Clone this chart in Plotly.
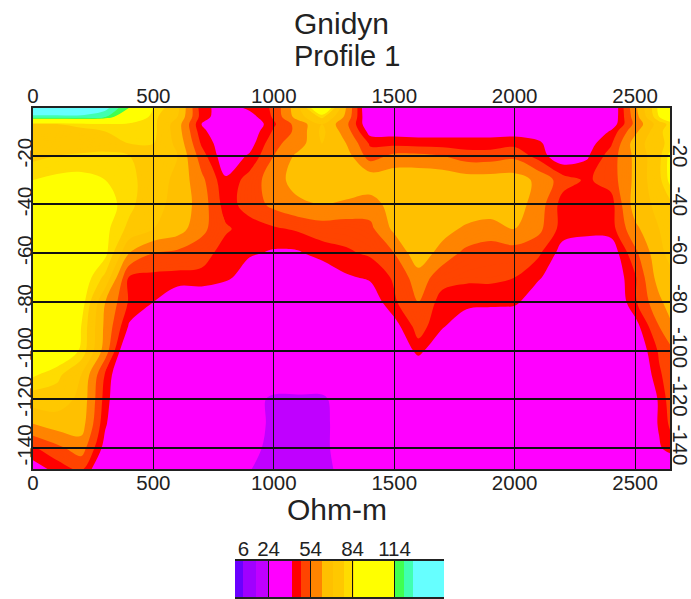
import plotly.graph_objects as go

distance = [0,100,200,300,400,500,600,700,800,900,1000,1100,1200,1300,1400,1500,1600,1700,1800,1900,2000,2100,2200,2300,2400,2500,2600,2645]
elevation = [0,-4,-7,-10,-15,-20,-30,-40,-50,-60,-70,-80,-90,-100,-110,-120,-130,-140,-150]
ohm = [
 [132,132,132,130,115,84,72,43,38,43,48,68,100,62,30,28,28,28,28,28,28,28,28,28,33,60,86,100],
 [126,126,126,122,100,80,70,44,36,38,48,66,80,60,32,28,28,28,28,28,28,28,28,28,34,58,84,92],
 [78,78,80,82,82,80,66,41,34,34,46,57,70,56,34,30,30,30,30,30,30,30,30,30,36,56,74,80],
 [76,76,76,78,80,80,66,43,34,36,48,56,72,58,38,38,38,38,38,38,38,38,34,32,42,60,76,82],
 [72,70,70,74,78,78,68,46,36,38,52,58,70,62,46,45,44,44,44,44,45,42,36,38,46,66,76,80],
 [76,78,80,80,78,76,70,50,36,42,54,64,68,66,50,56,56,54,50,50,52,44,36,40,50,64,76,86],
 [84,86,86,84,80,74,68,56,42,50,58,66,70,70,68,68,68,68,66,66,66,60,50,46,50,64,76,86],
 [92,92,92,88,80,72,68,58,44,50,56,60,62,60,58,66,70,70,70,68,66,58,44,42,44,66,72,76],
 [94,94,92,86,76,70,66,56,48,44,46,48,50,50,52,64,68,66,60,58,62,56,44,44,44,60,70,74],
 [92,92,90,86,62,54,52,50,44,42,40,40,44,46,48,54,68,58,52,50,50,48,38,34,36,52,68,72],
 [94,94,90,76,46,45,45,45,43,36,32,32,34,40,42,48,58,50,48,48,47,42,34,32,35,46,66,68],
 [94,94,88,62,46,41,34,34,30,30,30,30,30,32,36,46,54,44,44,44,43,34,30,30,32,46,60,66],
 [96,94,84,60,40,30,30,30,30,30,30,30,30,30,30,38,50,42,34,30,30,30,30,30,30,38,54,60],
 [96,92,83,58,30,30,30,30,30,30,30,30,30,30,30,30,44,32,30,30,30,30,30,30,28,34,48,52],
 [85,80,70,46,28,28,28,28,28,28,28,28,28,28,28,28,30,28,28,28,28,28,28,28,28,30,46,50],
 [74,74,68,44,28,28,28,28,28,26,23,23,23,27,28,28,28,28,28,28,28,28,28,28,28,28,42,50],
 [62,66,66,42,28,28,28,28,28,26,23,23,23,26,28,28,28,28,28,28,28,28,28,28,28,28,42,48],
 [46,52,58,38,28,28,28,28,28,25,23,23,23,26,28,28,28,28,28,28,28,28,28,28,28,28,40,44],
 [36,42,46,32,28,28,28,28,28,24,22,22,22,26,28,28,28,28,28,28,28,28,28,28,28,28,28,30],
]
band_starts = [0,6,15,24,41,47,54,62,70,78,84,114,121,127,150]
band_colors = ["#6a00ff","#a000ff","#c000ff","#ff00ff","#ff0000","#ff4400","#ff8400","#ffc000","#ffc800","#ffdc00","#ffff00","#40ff50","#40ffb0","#66ffff","#66ffff"]
legend_ticks = [24,54,84,114]
legend_labels = [6,24,54,84,114]
legend_values = list(range(0,150))
x_ticks = [0,500,1000,1500,2000,2500]
y_ticks = [-20,-40,-60,-80,-100,-120,-140]

W, H = 691, 599
def step_scale(starts, colors, top=150):
    stops = []
    for i in range(len(starts)-1):
        stops.append([starts[i]/top, colors[i]])
        stops.append([starts[i+1]/top, colors[i]])
    return stops
scale = step_scale(band_starts, band_colors)

FONT = "Liberation Sans, Arial, sans-serif"
INK = "#222222"
tick_font = dict(family=FONT, size=20.5, color=INK)
main_dom_x = [33/W, 670/W]
main_dom_y = [1-469/H, 1-108/H]
bar_dom_x = [235/W, 444/W]
bar_dom_y = [1-597/H, 1-561/H]
x_range = [0, 2645]
y_range = [-148.6, -0.4]
bar_range = [0, 149.3]

fig = go.Figure()
fig.add_trace(go.Contour(
    x=distance, y=elevation, z=ohm, zmin=0, zmax=150, autocontour=False,
    colorscale=scale, showscale=False, hoverinfo="skip",
    contours=dict(coloring="fill", start=0, end=150, size=1, showlines=False),
    line=dict(width=0),
))
fig.add_trace(go.Scatter(x=[None], y=[None], xaxis="x2", yaxis="y2", showlegend=False, hoverinfo="skip"))
fig.add_trace(go.Heatmap(
    x=[v+0.5 for v in legend_values], y=[0], z=[legend_values], zmin=0, zmax=150,
    colorscale=scale, showscale=False, xaxis="x3", yaxis="y3", hoverinfo="skip",
))
fig.add_trace(go.Scatter(x=[None], y=[None], xaxis="x4", yaxis="y3", showlegend=False, hoverinfo="skip"))

fig.update_layout(
    width=W, height=H, margin=dict(l=0, r=0, t=0, b=0, pad=0, autoexpand=False), autosize=False,
    paper_bgcolor="white", plot_bgcolor="white", showlegend=False,
    xaxis=dict(domain=main_dom_x, anchor="y", range=x_range, side="bottom", tickvals=x_ticks, ticktext=[str(v) for v in x_ticks],
               ticks="inside", ticklen=361, tickwidth=1.4, tickcolor="#111111", layer="above traces", automargin=False, ticklabelstandoff=-5,
               showgrid=False, zeroline=False, showline=True, linecolor="#222222", linewidth=1.5, mirror=True, tickfont=tick_font),
    yaxis=dict(domain=main_dom_y, anchor="x", range=y_range, side="left", tickvals=y_ticks, ticktext=[str(v) for v in y_ticks],
               ticks="inside", ticklen=637, tickwidth=2, tickcolor="#111111", layer="above traces", tickangle=-90, automargin=False, ticklabelstandoff=-9,
               showgrid=False, zeroline=False, showline=True, linecolor="#222222", linewidth=1.5, mirror=True, tickfont=tick_font),
    xaxis2=dict(domain=main_dom_x, anchor="y2", overlaying="x", side="top", range=x_range, tickvals=x_ticks, ticktext=[str(v) for v in x_ticks],
                ticks="", showgrid=False, zeroline=False, tickfont=tick_font, automargin=False),
    yaxis2=dict(domain=main_dom_y, anchor="x2", overlaying="y", side="right", range=y_range, tickvals=y_ticks, ticktext=[str(v) for v in y_ticks],
                ticks="", showgrid=False, zeroline=False, tickangle=90, tickfont=tick_font, automargin=False, ticklabelstandoff=-2),
    xaxis3=dict(domain=bar_dom_x, anchor="y3", range=bar_range, side="bottom", tickvals=legend_ticks, showticklabels=False,
                ticks="inside", ticklen=36, tickwidth=1.4, tickcolor="#111111", layer="above traces", automargin=False,
                showgrid=False, zeroline=False, showline=True, linecolor="#222222", linewidth=1.5, mirror=True),
    yaxis3=dict(domain=bar_dom_y, anchor="x3", range=[-0.5,0.5], showticklabels=False, ticks="", showgrid=False, zeroline=False, automargin=False),
    xaxis4=dict(domain=bar_dom_x, anchor="y3", overlaying="x3", side="top", range=bar_range, tickvals=legend_labels, ticktext=[str(v) for v in legend_labels],
                ticks="", showgrid=False, zeroline=False, tickfont=tick_font, automargin=False),
    annotations=[
        dict(text="Gnidyn", x=341/W, y=1-24/H, xref="paper", yref="paper", showarrow=False, xanchor="center", yanchor="middle", font=dict(family=FONT, size=30, color=INK)),
        dict(text="Profile 1", x=347/W, y=1-56/H, xref="paper", yref="paper", showarrow=False, xanchor="center", yanchor="middle", font=dict(family=FONT, size=29, color=INK)),
        dict(text="Ohm-m", x=337/W, y=1-509/H, xref="paper", yref="paper", showarrow=False, xanchor="center", yanchor="middle", font=dict(family=FONT, size=30, color=INK)),
    ],
)
fig.write_html("out.html", config=dict(displayModeBar=False), post_script="document.body.style.margin='0';document.body.style.overflow='hidden';")
